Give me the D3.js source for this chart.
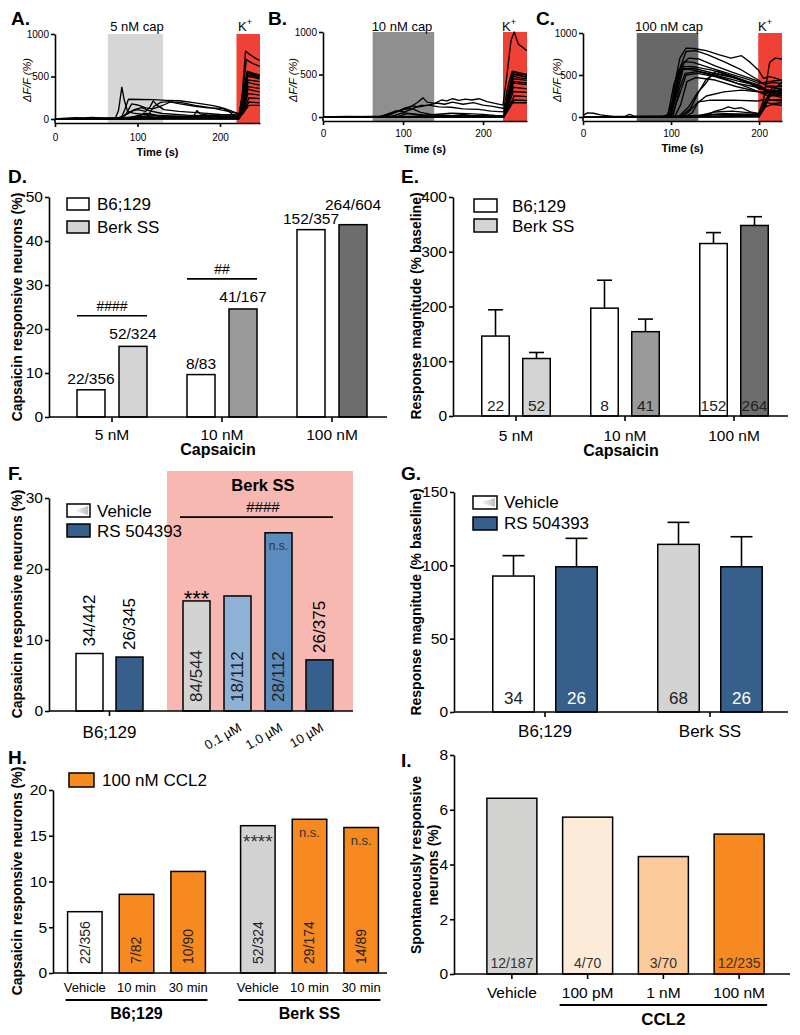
<!DOCTYPE html>
<html><head><meta charset="utf-8">
<script src="https://cdn.jsdelivr.net/npm/d3@7"></script>
<style>body{margin:0;background:#fff}svg{display:block}text{font-family:"Liberation Sans",Arial,Helvetica,sans-serif}</style>
</head><body><svg id="c" width="800" height="1035"></svg>
<script>
// ---------------- DATA ----------------
// Panels A-C: calcium imaging traces, points are [time (s), dF/F (%)]
const tracesA = [
 [[0,5],[20,0],[40,8],[60,3],[73,5],[77,100],[81,375],[84,220],[88,90],[95,70],[110,50],[130,40],[160,30],[200,20],[223,15],[227,300],[231,800],[236,760],[242,720],[248,690]],
 [[0,0],[30,5],[60,0],[80,5],[85,120],[89,232],[119,228],[135,220],[151,215],[170,190],[190,160],[200,140],[210,95],[216,50],[223,40],[227,250],[232,700],[238,660],[248,620]],
 [[0,3],[50,5],[75,5],[85,40],[93,177],[100,165],[110,130],[118,120],[128,150],[140,200],[152,195],[170,160],[190,130],[210,90],[223,60],[228,300],[233,560],[240,540],[248,520]],
 [[0,0],[70,0],[80,20],[92,90],[100,110],[110,90],[115,140],[119,213],[124,160],[132,110],[150,90],[180,70],[200,55],[223,45],[228,200],[233,520],[240,500],[248,480]],
 [[0,5],[60,10],[75,5],[88,60],[96,110],[105,135],[115,95],[130,65],[160,45],[200,30],[223,25],[228,220],[234,540],[242,510],[248,500]],
 [[0,0],[100,2],[112,30],[120,150],[128,195],[138,205],[150,180],[170,150],[185,130],[205,126],[215,90],[223,60],[229,150],[234,430],[242,410],[248,400]],
 [[0,0],[80,5],[120,10],[160,12],[168,30],[172,100],[176,60],[185,45],[200,35],[223,30],[229,200],[234,350],[242,330],[248,320]],
 [[0,2],[85,5],[100,40],[108,55],[120,45],[140,25],[180,15],[223,10],[229,120],[234,300],[248,280]],
 [[0,0],[25,15],[35,12],[45,18],[60,10],[90,12],[130,20],[160,15],[223,8],[229,100],[235,250],[248,240]],
 [[0,0],[60,3],[110,8],[150,5],[223,3],[229,90],[235,200],[248,190]],
 [[0,0],[90,0],[140,10],[200,20],[223,15],[229,80],[235,160],[248,160]],
 [[0,5],[70,5],[95,25],[110,30],[130,20],[223,10],[228,250],[233,500],[240,490],[248,470]],
 [[0,0],[223,0],[228,200],[233,560],[240,530],[248,510]],
 [[0,0],[223,5],[229,220],[234,460],[248,440]],
 [[0,0],[120,15],[140,20],[170,40],[200,50],[215,45],[223,30],[229,160],[234,380],[248,360]],
 [[0,0],[100,10],[108,70],[116,60],[125,35],[150,30],[190,25],[223,20],[228,180],[233,540],[241,520],[248,500]]
];
const tracesB = [
 [[0,0],[15,-5],[30,5],[45,0],[60,3],[72,0],[80,25],[95,70],[108,110],[118,170],[125,225],[130,175],[140,160],[148,200],[155,190],[162,215],[170,195],[178,210],[186,200],[195,215],[205,180],[215,160],[225,140],[230,500],[235,900],[239,1000],[244,860],[255,780]],
 [[0,0],[40,5],[74,0],[85,40],[100,90],[112,100],[122,135],[132,140],[142,165],[152,150],[162,175],[175,150],[188,170],[200,140],[212,125],[226,100],[231,350],[236,530],[245,510],[255,490]],
 [[0,0],[78,0],[90,50],[102,105],[112,130],[120,120],[132,140],[145,120],[160,115],[175,95],[195,90],[210,70],[226,60],[232,300],[237,480],[246,460],[255,450]],
 [[0,0],[70,0],[82,40],[92,75],[102,60],[112,95],[122,55],[135,30],[160,20],[200,15],[226,10],[232,260],[238,500],[248,480],[255,470]],
 [[0,0],[85,5],[100,50],[110,40],[125,25],[160,15],[175,30],[185,20],[205,10],[226,5],[232,200],[238,420],[255,400]],
 [[0,0],[30,8],[50,3],[100,8],[150,4],[226,0],[231,100],[235,170],[255,168]],
 [[0,0],[110,5],[140,30],[160,45],[180,40],[200,30],[215,20],[226,15],[232,180],[238,350],[255,330]],
 [[0,0],[226,0],[232,150],[238,300],[255,290]],
 [[0,0],[226,0],[233,120],[239,250],[255,240]],
 [[0,0],[226,0],[233,100],[239,200],[255,195]],
 [[0,0],[226,0],[232,280],[237,540],[246,520],[255,500]],
 [[0,0],[226,0],[232,220],[238,400],[255,380]],
 [[0,0],[95,10],[105,40],[115,30],[130,10],[226,5],[232,240],[238,450],[255,430]],
 [[0,0],[226,3],[232,260],[237,510],[247,490],[255,470]]
];
const tracesC = [
 [[0,20],[5,50],[12,45],[20,25],[35,5],[90,5],[99,40],[104,380],[110,700],[117,820],[126,815],[140,790],[155,740],[168,700],[180,730],[190,650],[199,560],[205,460],[212,480],[226,440]],
 [[0,0],[50,5],[95,0],[102,200],[109,550],[117,780],[128,790],[142,740],[160,660],[180,560],[199,440],[206,390],[215,410],[226,400]],
 [[0,0],[98,0],[105,300],[112,620],[120,700],[132,690],[150,610],[170,530],[190,460],[200,420],[210,360],[226,330]],
 [[0,0],[100,0],[107,450],[113,600],[125,600],[145,560],[165,500],[185,420],[200,350],[210,300],[226,280]],
 [[0,0],[96,0],[103,380],[109,560],[125,580],[145,530],[170,470],[190,400],[200,350],[212,290],[226,250]],
 [[0,0],[100,0],[109,250],[117,500],[130,520],[150,480],[175,400],[195,360],[205,330],[226,300]],
 [[0,0],[104,0],[111,150],[118,420],[128,470],[150,440],[175,360],[200,300],[215,260],[226,230]],
 [[0,0],[108,0],[120,120],[130,290],[138,380],[146,500],[152,550],[165,500],[185,430],[200,380],[212,300],[226,310]],
 [[0,0],[110,0],[122,100],[131,290],[140,450],[150,520],[170,480],[190,400],[200,330],[212,370],[226,360]],
 [[0,0],[112,0],[120,60],[128,150],[140,250],[160,300],[180,320],[200,300],[210,250],[226,280]],
 [[0,0],[115,0],[124,50],[131,180],[145,200],[170,200],[198,190],[206,210],[226,190]],
 [[0,0],[120,0],[140,20],[150,70],[158,90],[165,120],[172,100],[180,110],[190,60],[200,40],[210,250],[226,420]],
 [[0,0],[48,10],[53,30],[58,10],[130,10],[150,30],[199,30],[205,200],[212,650],[218,700],[226,690]],
 [[0,0],[100,5],[130,20],[160,40],[199,30],[206,150],[215,350],[226,380]],
 [[0,5],[130,5],[199,10],[205,100],[212,250],[226,260]],
 [[0,0],[130,0],[200,10],[206,180],[214,160],[226,170]],
 [[0,0],[200,0],[207,120],[215,150],[226,140]],
 [[0,0],[97,0],[103,150],[108,400],[115,660],[125,650],[140,600],[165,520],[190,440],[200,400],[210,420],[226,440]],
 [[0,0],[99,0],[106,250],[114,580],[124,560],[150,500],[175,430],[200,370],[212,300],[226,320]],
 [[0,0],[102,0],[110,350],[116,520],[130,540],[160,460],[190,340],[200,300],[226,290]],
 [[0,0],[125,0],[150,60],[170,70],[190,50],[200,40],[210,200],[226,210]],
 [[0,0],[140,10],[180,20],[199,15],[206,100],[214,300],[226,330]]
];
const traceTitles = ["5 nM cap","10 nM cap","100 nM cap"];
const capWindows = [[64,131],[62,139],[61,131]];
const kWindows = [[220,248.5],[225,255],[199,226]];
const traceTMax = [248.5,255,226];
const traceYTicks = [0,500,1000];
const traceXTicks = [0,100,200];

// Panel D
const dCategories = ["5 nM","10 nM","100 nM"];
const dB6 = [6.18, 9.64, 42.58];
const dBerk = [16.05, 24.55, 43.71];
const dB6Labels = ["22/356","8/83","152/357"];
const dBerkLabels = ["52/324","41/167","264/604"];
const dSig = [{cat:"5 nM", value:23, label:"####"},{cat:"10 nM", value:31.4, label:"##"}];
const dYTicks = [0,10,20,30,40,50];

// Panel E
const eB6 = [146, 197, 315];
const eB6Sem = [48, 51, 20];
const eBerk = [105, 154, 348];
const eBerkSem = [11, 23, 16];
const eB6N = ["22","8","152"];
const eBerkN = ["52","41","264"];
const eYTicks = [0,100,200,300,400];

// Panel F
const fB6Cats = ["Vehicle","RS 504393"];
const fB6Vals = [8.1, 7.6];
const fB6Labels = ["34/442","26/345"];
const fBerkCats = ["Vehicle","0.1 µM","1.0 µM","10 µM"];
const fBerkVals = [15.5, 16.2, 25.1, 7.2];
const fBerkLabels = ["84/544","18/112","28/112","26/375"];
const fSigValue = 27.3;
const fYTicks = [0,10,20,30];

// Panel G
const gGroups = ["B6;129","Berk SS"];
const gVehicle = [92.7, 114.3];
const gVehicleSem = [13.9, 15.0];
const gRS = [99.0, 99.0];
const gRSSem = [19.4, 20.5];
const gVehicleN = ["34","68"];
const gRSN = ["26","26"];
const gYTicks = [0,50,100,150];

// Panel H
const hConditions = ["Vehicle","10 min","30 min"];
const hB6 = [6.7, 8.6, 11.1];
const hBerk = [16.1, 16.8, 15.9];
const hB6Labels = ["22/356","7/82","10/90"];
const hBerkLabels = ["52/324","29/174","14/89"];
const hBerkMarks = ["****","n.s.","n.s."];
const hYTicks = [0,5,10,15,20];

// Panel I
const iCategories = ["Vehicle","100 pM","1 nM","100 nM"];
const iValues = [6.42, 5.73, 4.29, 5.11];
const iLabels = ["12/187","4/70","3/70","12/235"];
const iYTicks = [0,2,4,6,8];

// ---------------- STYLE ----------------
const FONT = '"Liberation Sans", Arial, Helvetica, sans-serif';
const RED = "#ef4136", ORANGE = "#f6891f", BLUE = "#365f8c", LBLUE = "#8eb1d6", MBLUE = "#5b8cbd";
const capFills = ["#d6d6d6","#8f8f8f","#686868"];
const berkFills = ["#d4d4d4","#9a9a9a","#6d6d6d"];
const SW = 1.6;
const TICKFS = 15.5;

const svg = d3.select("#c");
const defs = svg.append("defs");
const grad = defs.append("linearGradient").attr("id","vg").attr("x1","0").attr("x2","1");
grad.append("stop").attr("offset","0").attr("stop-color","#fff");
grad.append("stop").attr("offset","1").attr("stop-color","#bdbdbd");

function txt(g, x, y, s, o={}) {
  const t = g.append("text").attr("x",x).attr("y",y).text(s)
    .attr("font-size", o.size||16).attr("text-anchor", o.anchor||"middle")
    .attr("fill", o.fill||"#000");
  if (o.bold) t.attr("font-weight","bold");
  if (o.italic) t.attr("font-style","italic");
  return t;
}
function rotTxt(g, cx, cy, s, o={}) {
  const t = g.append("text").attr("transform",`translate(${cx},${cy}) rotate(${o.angle||-90})`)
    .attr("dy", o.dy||"0.35em").text(s).attr("font-size", o.size||14)
    .attr("text-anchor", o.anchor||"middle").attr("fill", o.fill||"#000");
  if (o.bold) t.attr("font-weight","bold");
  if (o.italic) t.attr("font-style","italic");
  return t;
}
function styleAxis(a, fs) {
  a.attr("font-family", FONT).attr("font-size", fs);
  a.select(".domain").attr("stroke-width", SW).attr("stroke","#000");
  a.selectAll(".tick line").attr("stroke-width", SW).attr("stroke","#000");
  a.selectAll(".tick text").attr("fill","#000");
}
function yAxis(g, y, xpos, ticks, fs) {
  const a = g.append("g").attr("transform",`translate(${xpos},0)`)
    .call(d3.axisLeft(y).tickValues(ticks).tickFormat(d3.format("d")).tickSize(4).tickSizeOuter(0).tickPadding(2));
  styleAxis(a, fs);
  return a;
}
function hline(g, x0, x1, yy, w) {
  g.append("line").attr("x1",x0).attr("x2",x1).attr("y1",yy).attr("y2",yy).attr("stroke","#000").attr("stroke-width", w||SW);
}
function xTicks(g, scale, yy) {
  const a = g.append("g").attr("transform",`translate(0,${yy})`)
    .call(d3.axisBottom(scale).tickSize(5).tickFormat(""));
  a.select(".domain").remove();
  a.selectAll(".tick line").attr("stroke-width", SW).attr("stroke","#000");
}
function bar(g, x, w, y0, yv, fill) {
  g.append("rect").attr("x", x - w/2).attr("width", w).attr("y", yv).attr("height", y0 - yv)
    .attr("fill", fill).attr("stroke","#000").attr("stroke-width",1.5);
}
function errBar(g, x, capW, yTop, yErr) {
  g.append("line").attr("x1",x).attr("x2",x).attr("y1",yTop).attr("y2",yErr).attr("stroke","#000").attr("stroke-width",SW);
  hline(g, x-capW/2, x+capW/2, yErr);
}
function panelLetter(x, y, s) { txt(svg, x, y, s, {size:19, bold:true, anchor:"start"}); }

// ---------------- PANELS A-C ----------------
const traceCfg = [
  {traces:tracesA, x0:55, x1:260, y0:119, ytop:34, letter:"A.", lx:11, titleX:137, kx:249, pad:7, ylx:27, xlab:156},
  {traces:tracesB, x0:323, x1:527, y0:117, ytop:32, letter:"B.", lx:268, titleX:402, kx:513, pad:5, ylx:293, xlab:153},
  {traces:tracesC, x0:583, x1:782, y0:117, ytop:33, letter:"C.", lx:536, titleX:669, kx:769, pad:5, ylx:557, xlab:152}
];
traceCfg.forEach((c, i) => {
  const g = svg.append("g");
  const x = d3.scaleLinear().domain([0, traceTMax[i]]).range([c.x0, c.x1]);
  const y = d3.scaleLinear().domain([0, 1000]).range([c.y0, c.ytop]);
  const axY = c.y0 + 4;
  g.append("rect").attr("x", x(capWindows[i][0])).attr("width", x(capWindows[i][1]) - x(capWindows[i][0]))
    .attr("y", y(1000)).attr("height", axY - y(1000)).attr("fill", capFills[i]);
  g.append("rect").attr("x", x(kWindows[i][0])).attr("width", x(kWindows[i][1]) - x(kWindows[i][0]))
    .attr("y", y(1000)).attr("height", axY - y(1000)).attr("fill", RED);
  const line = d3.line().x(d => x(d[0])).y(d => y(d[1]));
  g.selectAll("path.tr").data(c.traces).join("path").attr("class","tr").attr("d", line)
    .attr("fill","none").attr("stroke","#000").attr("stroke-width",1.35).attr("stroke-linejoin","round");
  yAxis(g, y, c.x0, traceYTicks, 10);
  g.append("line").attr("x1",c.x0).attr("x2",c.x0).attr("y1",c.y0).attr("y2",axY).attr("stroke","#000").attr("stroke-width",SW);
  const xa = g.append("g").attr("transform",`translate(0,${axY})`)
    .call(d3.axisBottom(x).tickValues(traceXTicks).tickFormat(d3.format("d")).tickSize(4).tickSizeOuter(0).tickPadding(c.pad));
  styleAxis(xa, 10);
  txt(g, (c.x0 + c.x1)/2, c.xlab, "Time (s)", {size:11, bold:true});
  rotTxt(g, c.ylx, 80, "ΔF/F (%)", {size:11, italic:true});
  txt(g, c.titleX, 31, traceTitles[i], {size:13});
  const k = txt(g, c.kx - 4, 31, "K", {size:13});
  k.append("tspan").attr("dy", -6).attr("font-size", 9).text("+");
  panelLetter(c.lx, 25, c.letter);
});

// ---------------- PANEL D ----------------
{
  const g = svg.append("g");
  const y = d3.scaleLinear().domain([0,50]).range([417,197]);
  const x = d3.scaleBand().domain(dCategories).range([57,387]);
  const bw = 28, off = 21;
  dCategories.forEach((cat, i) => {
    const c = x(cat) + x.bandwidth()/2;
    bar(g, c - off, bw, y(0), y(dB6[i]), "#fff");
    bar(g, c + off, bw, y(0), y(dBerk[i]), berkFills[i]);
    txt(g, c - off, y(dB6[i]) - 6, dB6Labels[i], {size:15.5});
    txt(g, c + off, y(dBerk[i]) - (i === 2 ? 15 : 7), dBerkLabels[i], {size:15.5});
  });
  dSig.forEach(s => {
    const c = x(s.cat) + x.bandwidth()/2;
    hline(g, c - off - bw/2, c + off + bw/2, y(s.value));
    txt(g, c, y(s.value) - 5, s.label, {size:14});
  });
  yAxis(g, y, 49, dYTicks, TICKFS);
  hline(g, 49, 387, y(0));
  xTicks(g, x, y(0));
  dCategories.forEach(cat => txt(g, x(cat) + x.bandwidth()/2, 440, cat, {size:15.5}));
  txt(g, 218, 455, "Capsaicin", {size:16, bold:true});
  rotTxt(g, 17, 307, "Capsaicin responsive neurons (%)", {size:14, bold:true});
  g.append("rect").attr("x",67).attr("y",198).attr("width",22).attr("height",12).attr("fill","#fff").attr("stroke","#000").attr("stroke-width",1.5);
  g.append("rect").attr("x",67).attr("y",221).attr("width",22).attr("height",12).attr("fill",berkFills[0]).attr("stroke","#000").attr("stroke-width",1.5);
  txt(g, 97, 210, "B6;129", {size:17, anchor:"start"});
  txt(g, 97, 233, "Berk SS", {size:17, anchor:"start"});
  panelLetter(8, 183, "D.");
}

// ---------------- PANEL E ----------------
{
  const g = svg.append("g");
  const y = d3.scaleLinear().domain([0,400]).range([416,197]);
  const x = d3.scaleBand().domain(dCategories).range([461.5,788.5]);
  const bw = 27.5, off = 20.5, cap = 15;
  dCategories.forEach((cat, i) => {
    const c = x(cat) + x.bandwidth()/2;
    errBar(g, c - off, cap, y(eB6[i]), y(eB6[i] + eB6Sem[i]));
    errBar(g, c + off, cap, y(eBerk[i]), y(eBerk[i] + eBerkSem[i]));
    bar(g, c - off, bw, y(0), y(eB6[i]), "#fff");
    bar(g, c + off, bw, y(0), y(eBerk[i]), berkFills[i]);
    txt(g, c - off, 411, eB6N[i], {size:15.5, fill:"#222"});
    txt(g, c + off, 411, eBerkN[i], {size:15.5, fill:"#222"});
  });
  yAxis(g, y, 453, eYTicks, TICKFS);
  hline(g, 453, 788, y(0));
  xTicks(g, x, y(0));
  dCategories.forEach(cat => txt(g, x(cat) + x.bandwidth()/2, 441, cat, {size:15.5}));
  txt(g, 621, 456, "Capsaicin", {size:16, bold:true});
  rotTxt(g, 416, 306, "Response magnitude (% baseline)", {size:14, bold:true});
  g.append("rect").attr("x",474).attr("y",199).attr("width",23).attr("height",13).attr("fill","#fff").attr("stroke","#000").attr("stroke-width",1.5);
  g.append("rect").attr("x",474).attr("y",219).attr("width",23).attr("height",13).attr("fill",berkFills[0]).attr("stroke","#000").attr("stroke-width",1.5);
  txt(g, 512, 212, "B6;129", {size:17, anchor:"start"});
  txt(g, 512, 232, "Berk SS", {size:17, anchor:"start"});
  panelLetter(401, 183, "E.");
}

// ---------------- PANEL F ----------------
{
  const g = svg.append("g");
  const y = d3.scaleLinear().domain([0,30]).range([711,498]);
  const xB6 = d3.scaleBand().domain(fB6Cats).range([69.5,149.5]);
  const xBerk = d3.scaleBand().domain(fBerkCats).range([176,340]);
  const bw = 27;
  g.append("rect").attr("x",167).attr("y",471).attr("width",186).attr("height",y(0)-471).attr("fill","#f7b8b1");
  const b6Fills = ["#fff", BLUE], berkF = ["#d3d3d3", LBLUE, MBLUE, BLUE];
  const b6Pos = ["above","above"], berkPos = ["inside","inside","inside","above"];
  const drawSet = (xs, cats, vals, labels, fills, pos) => {
    cats.forEach((cat, i) => {
      const c = xs(cat) + xs.bandwidth()/2;
      bar(g, c, bw, y(0), y(vals[i]), fills[i]);
      if (pos[i] === "above") rotTxt(g, c, y(vals[i]) - 7, labels[i], {size:17, anchor:"start"});
      else rotTxt(g, c, y(0) - 9, labels[i], {size:17, anchor:"start", fill:"#222"});
    });
  };
  drawSet(xB6, fB6Cats, fB6Vals, fB6Labels, b6Fills, b6Pos);
  drawSet(xBerk, fBerkCats, fBerkVals, fBerkLabels, berkF, berkPos);
  const cVeh = xBerk("Vehicle") + xBerk.bandwidth()/2;
  txt(g, cVeh, y(fBerkVals[0]) + 5, "***", {size:22});
  const c1 = xBerk("1.0 µM") + xBerk.bandwidth()/2;
  txt(g, c1, y(fBerkVals[2]) + 17, "n.s.", {size:12, fill:"#333"});
  hline(g, 180, 333, y(fSigValue));
  txt(g, 263, y(fSigValue) - 5, "####", {size:15});
  txt(g, 263, 491, "Berk SS", {size:16.5, bold:true});
  yAxis(g, y, 49, fYTicks, TICKFS);
  hline(g, 49, 353, y(0));
  const b6c = (xB6.range()[0] + xB6.range()[1]) / 2;
  g.append("line").attr("x1",b6c).attr("x2",b6c).attr("y1",y(0)).attr("y2",y(0)+5).attr("stroke","#000").attr("stroke-width",SW);
  txt(g, b6c, 738, "B6;129", {size:17});
  fBerkCats.slice(1).forEach(cat => {
    const c = xBerk(cat) + xBerk.bandwidth()/2;
    rotTxt(g, c + 5, 730, cat, {size:13, anchor:"end", angle:-30, dy:"0"});
  });
  rotTxt(g, 17, 604, "Capsaicin responsive neurons (%)", {size:14, bold:true});
  g.append("rect").attr("x",67).attr("y",504).attr("width",23).attr("height",13).attr("fill","#fff").attr("stroke","#000").attr("stroke-width",1.5);
  g.append("polygon").attr("points","88,506 88,515 74,510.5").attr("fill","url(#vg)");
  g.append("rect").attr("x",67).attr("y",524).attr("width",23).attr("height",13).attr("fill",BLUE).attr("stroke","#000").attr("stroke-width",1.5);
  txt(g, 97, 517, "Vehicle", {size:17, anchor:"start"});
  txt(g, 97, 537, "RS 504393", {size:17, anchor:"start"});
  panelLetter(8, 480, "F.");
}

// ---------------- PANEL G ----------------
{
  const g = svg.append("g");
  const y = d3.scaleLinear().domain([0,150]).range([712,492]);
  const x = d3.scaleBand().domain(gGroups).range([462.5,792.5]);
  const bw = 41.5, off = 31.5, cap = 22;
  const vehFills = ["#fff", "#d3d3d3"];
  gGroups.forEach((grp, i) => {
    const c = x(grp) + x.bandwidth()/2;
    errBar(g, c - off, cap, y(gVehicle[i]), y(gVehicle[i] + gVehicleSem[i]));
    errBar(g, c + off, cap, y(gRS[i]), y(gRS[i] + gRSSem[i]));
    bar(g, c - off, bw, y(0), y(gVehicle[i]), vehFills[i]);
    bar(g, c + off, bw, y(0), y(gRS[i]), BLUE);
    txt(g, c - off, 704, gVehicleN[i], {size:17, fill:"#222"});
    txt(g, c + off, 704, gRSN[i], {size:17, fill:"#fff"});
  });
  yAxis(g, y, 454, gYTicks, TICKFS);
  hline(g, 454, 788, y(0));
  xTicks(g, x, y(0));
  gGroups.forEach(grp => txt(g, x(grp) + x.bandwidth()/2, 737, grp, {size:17}));
  rotTxt(g, 416, 602, "Response magnitude (% baseline)", {size:14, bold:true});
  g.append("rect").attr("x",473).attr("y",496).attr("width",24).attr("height",13).attr("fill","#fff").attr("stroke","#000").attr("stroke-width",1.5);
  g.append("polygon").attr("points","495,498 495,507 480,502.5").attr("fill","url(#vg)");
  g.append("rect").attr("x",473).attr("y",517).attr("width",24).attr("height",13).attr("fill",BLUE).attr("stroke","#000").attr("stroke-width",1.5);
  txt(g, 504, 508, "Vehicle", {size:17, anchor:"start"});
  txt(g, 504, 529, "RS 504393", {size:17, anchor:"start"});
  panelLetter(401, 480, "G.");
}

// ---------------- PANEL H ----------------
{
  const g = svg.append("g");
  const y = d3.scaleLinear().domain([0,20]).range([973,790]);
  const xB6 = d3.scaleBand().domain(hConditions).range([59,214]);
  const xBerk = d3.scaleBand().domain(hConditions).range([232,387]);
  const bw = 34.5;
  const sets = [
    {xs:xB6, vals:hB6, labels:hB6Labels, fills:["#fff",ORANGE,ORANGE], name:"B6;129", marks:["","",""]},
    {xs:xBerk, vals:hBerk, labels:hBerkLabels, fills:["#d3d3d3",ORANGE,ORANGE], name:"Berk SS", marks:hBerkMarks}
  ];
  sets.forEach(s => {
    hConditions.forEach((cond, i) => {
      const c = s.xs(cond) + s.xs.bandwidth()/2;
      bar(g, c, bw, y(0), y(s.vals[i]), s.fills[i]);
      rotTxt(g, c, y(0) - 9, s.labels[i], {size:14, anchor:"start", fill:"#222"});
      if (s.marks[i] === "****") txt(g, c, y(s.vals[i]) + 22, s.marks[i], {size:19, fill:"#333"});
      else if (s.marks[i]) txt(g, c, y(s.vals[i]) + 17.5, s.marks[i], {size:13, fill:"#333"});
      txt(g, c, 992, cond, {size:13});
    });
    const l = s.xs(hConditions[0]) + s.xs.bandwidth()/2 - bw/2 - 2;
    const r = s.xs(hConditions[2]) + s.xs.bandwidth()/2 + bw/2 + 2;
    hline(g, l, r, 1000, 2);
    txt(g, (l + r)/2, 1019, s.name, {size:16, bold:true});
  });
  yAxis(g, y, 53, hYTicks, TICKFS);
  hline(g, 53, 387, y(0));
  rotTxt(g, 17, 881, "Capsaicin responsive neurons (%)", {size:14, bold:true});
  g.append("rect").attr("x",69).attr("y",773).attr("width",25).attr("height",14).attr("fill",ORANGE).attr("stroke","#000").attr("stroke-width",1.5);
  txt(g, 102, 786, "100 nM CCL2", {size:17, anchor:"start"});
  panelLetter(8, 764, "H.");
}

// ---------------- PANEL I ----------------
{
  const g = svg.append("g");
  const y = d3.scaleLinear().domain([0,8]).range([974,755]);
  const x = d3.scaleBand().domain(iCategories).range([474,777]);
  const bw = 50;
  const fills = ["#d3d3d1","#fdebd9","#fbcb9c",ORANGE];
  iCategories.forEach((cat, i) => {
    const c = x(cat) + x.bandwidth()/2;
    bar(g, c, bw, y(0), y(iValues[i]), fills[i]);
    txt(g, c, 968, iLabels[i], {size:14, fill:"#333"});
    txt(g, c, 998, cat, {size:15.5});
  });
  yAxis(g, y, 454, iYTicks, TICKFS);
  hline(g, 454, 790, y(0));
  xTicks(g, x, y(0));
  const l = x(iCategories[1]) + x.bandwidth()/2 - bw/2 - 3;
  const r = x(iCategories[3]) + x.bandwidth()/2 + bw/2 + 3;
  hline(g, l, r, 1005, 2);
  txt(g, x(iCategories[2]) + x.bandwidth()/2, 1025, "CCL2", {size:17, bold:true});
  rotTxt(g, 416, 865, "Spontaneously responsive", {size:14, bold:true});
  rotTxt(g, 433, 865, "neurons (%)", {size:14, bold:true});
  panelLetter(401, 767, "I.");
}
</script></body></html>
